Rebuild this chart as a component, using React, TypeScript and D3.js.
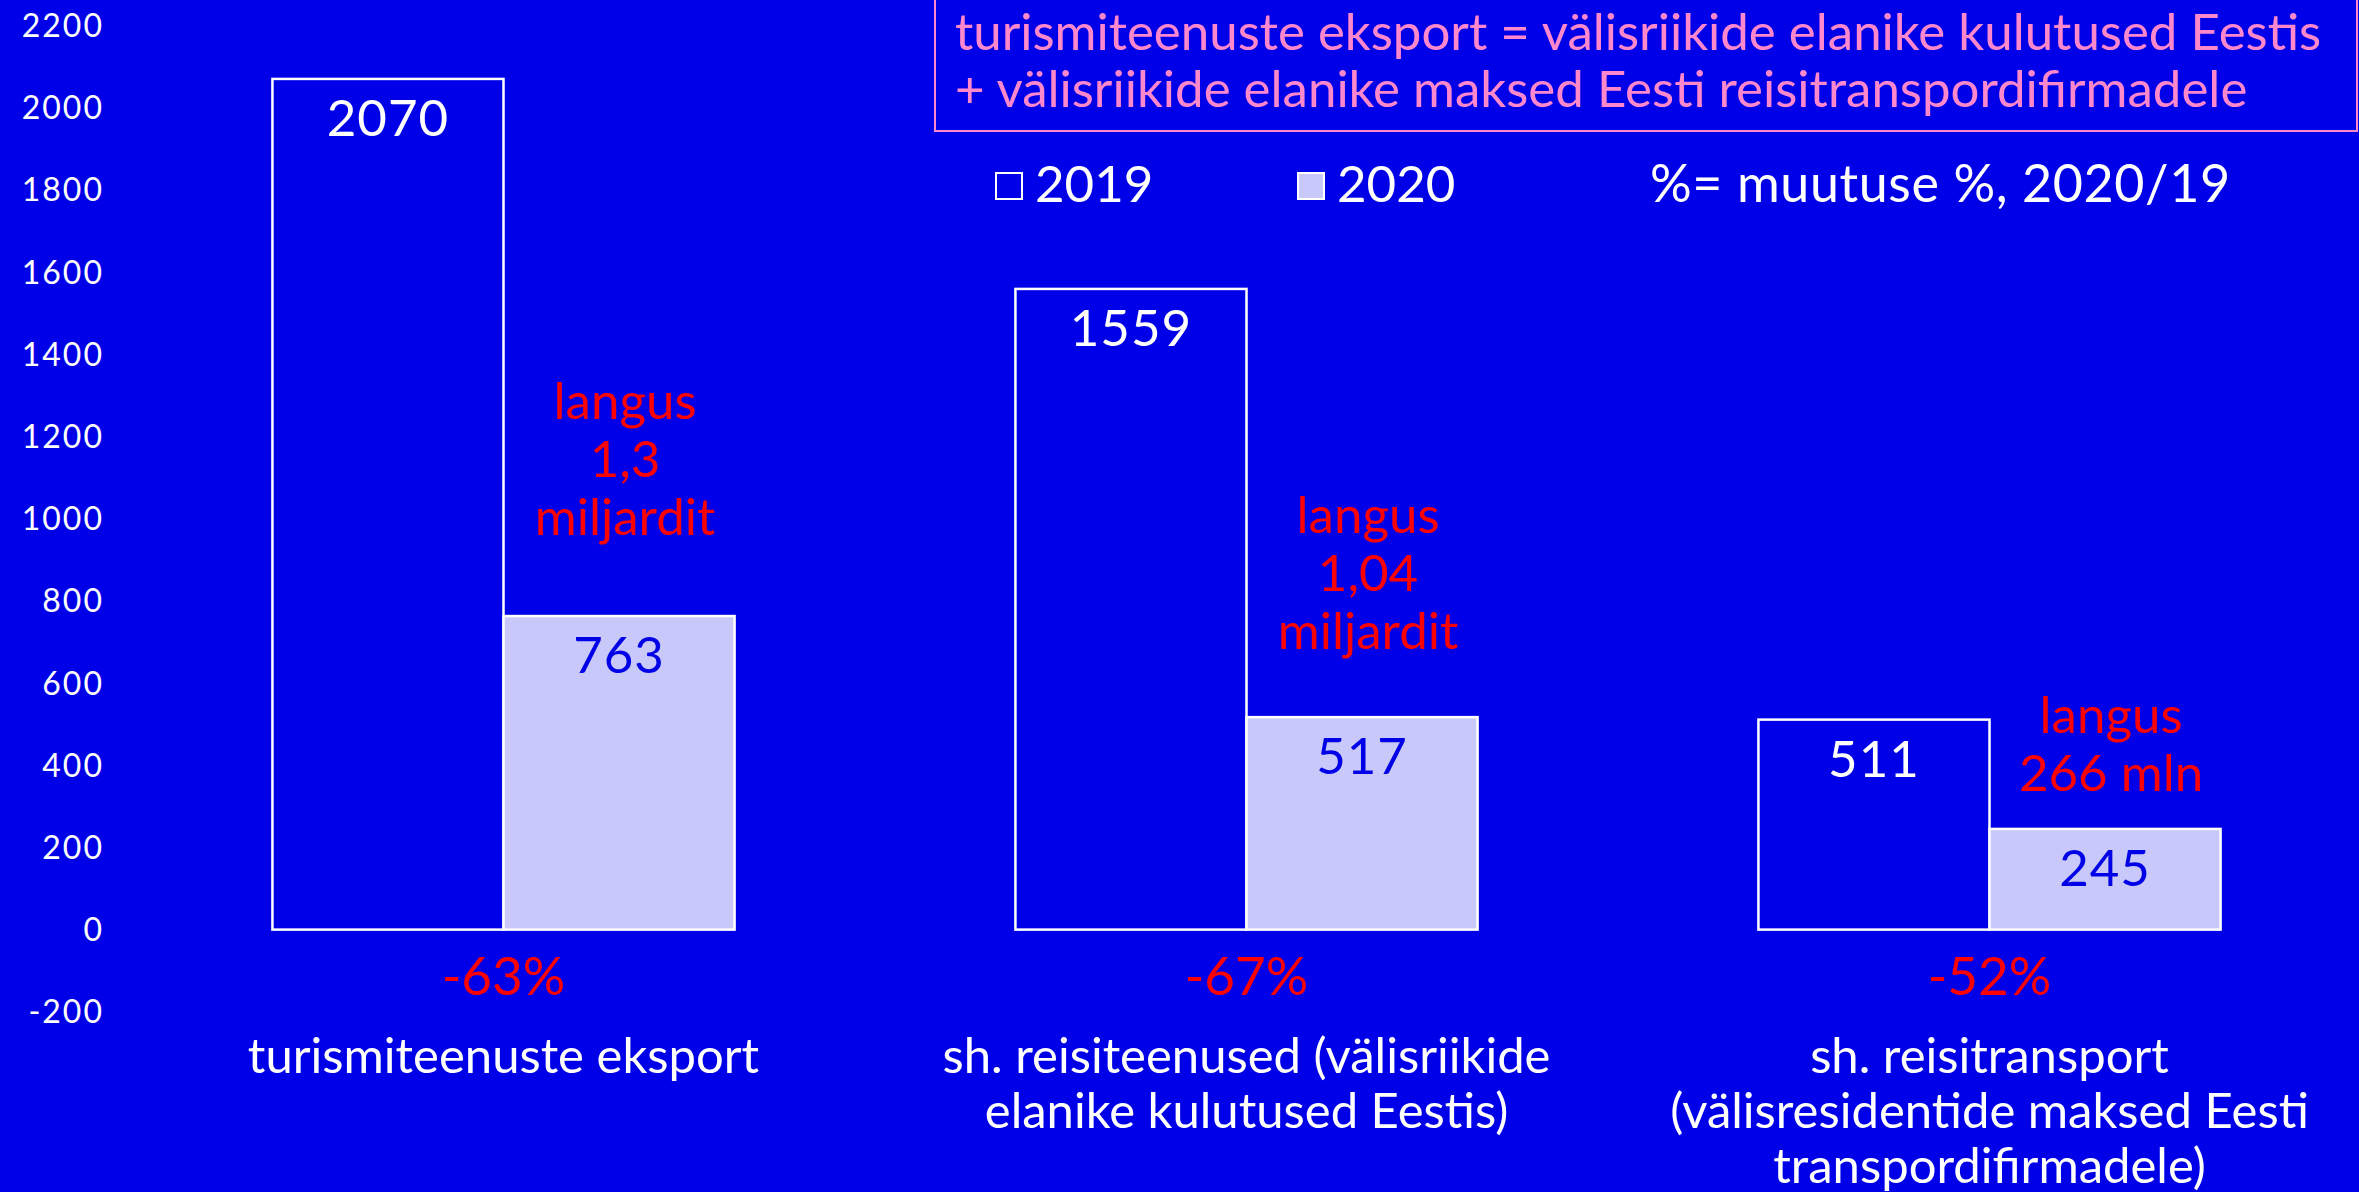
import React from 'react';
import * as d3 from 'd3';

// chart values
const categoryLines = [
  ['turismiteenuste eksport'],
  ['sh. reisiteenused (välisriikide', 'elanike kulutused Eestis)'],
  ['sh. reisitransport', '(välisresidentide maksed Eesti', 'transpordifirmadele)'],
];
const categories = categoryLines.map(l => l.join(' '));
const years = ['2019', '2020'];
const values2019 = [2070, 1559, 511];
const values2020 = [763, 517, 245];
const changeLabels = ['-63%', '-67%', '-52%'];
const dropNotes = [['langus', '1,3', 'miljardit'], ['langus', '1,04', 'miljardit'], ['langus', '266 mln']];
const dropNoteAt = [1242, 965, 478]; // value level of the first note line
const yTicks = d3.range(-200, 2201, 200);
const headerLines = [
  'turismiteenuste eksport = välisriikide elanike kulutused Eestis',
  '+ välisriikide elanike maksed Eesti reisitranspordifirmadele',
];
const changeNote = '%= muutuse %, 2020/19';

const W = 2359;
const H = 1192;
const BG = '#0000E8';
const LIGHT = '#C8C8FA';
const PINK = '#FF88CC';
const RED = '#FF0000';
const FONT = 'Lato, "Open Sans", sans-serif';

export default function App() {
  const y = d3.scaleLinear().domain([-200, 2200]).range([1011.8, 25.5]);
  const x0 = d3.scaleBand().domain(categories).range([132, 2361]).paddingInner(0.378).paddingOuter(0.189);
  const x1 = d3.scaleBand().domain(years).range([0, x0.bandwidth()]);
  const series = [values2019, values2020];
  const fills = [BG, LIGHT];
  const labelColors = ['#FFFFFF', BG];

  return (
    <svg width={W} height={H} style={{ position: 'absolute', left: 0, top: 0, background: BG }} fontFamily={FONT}>
      <rect x={0} y={0} width={W} height={H} fill={BG} />

      {/* y axis labels, no line */}
      {yTicks.map(t => (
        <text key={t} x={104} y={y(t)} dy="0.36em" textAnchor="end" fill="#fff" fontSize={32} letterSpacing={2}>
          {t}
        </text>
      ))}

      {/* bars */}
      {categories.map((c, i) => (
        <g key={c} transform={`translate(${x0(c)},0)`}>
          {years.map((yr, k) => {
            const v = series[k][i];
            return (
              <g key={yr}>
                <rect
                  x={x1(yr)}
                  y={y(v)}
                  width={x1.bandwidth()}
                  height={y(0) - y(v)}
                  fill={fills[k]}
                  stroke="#fff"
                  strokeWidth={2.5}
                />
                <text
                  x={(x1(yr) as number) + x1.bandwidth() / 2}
                  y={y(v) + 57}
                  textAnchor="middle"
                  fill={labelColors[k]}
                  fontSize={51}
                  letterSpacing={1}
                >
                  {v}
                </text>
              </g>
            );
          })}
          {/* drop note over the 2020 bar */}
          <text textAnchor="middle" fill={RED} fontSize={51}>
            {dropNotes[i].map((line, j) => (
              <tspan key={j} x={(x1('2020') as number) + x1.bandwidth() / 2 + 6} y={y(dropNoteAt[i]) + j * 58}>
                {line}
              </tspan>
            ))}
          </text>
          {/* change % */}
          <text x={x0.bandwidth() / 2} y={y(0) + 65} textAnchor="middle" fill={RED} fontSize={53}>
            {changeLabels[i]}
          </text>
          {/* category label */}
          <text textAnchor="middle" fill="#fff" fontSize={49}>
            {categoryLines[i].map((line, j) => (
              <tspan key={j} x={x0.bandwidth() / 2} y={y(0) + 143 + j * 55}>
                {line}
              </tspan>
            ))}
          </text>
        </g>
      ))}

      {/* header box */}
      <rect x={935} y={-5} width={1422} height={136} fill="none" stroke={PINK} strokeWidth={2} />
      {headerLines.map((line, j) => (
        <text key={j} x={955} y={50 + j * 57} fill={PINK} fontSize={51}>
          {line}
        </text>
      ))}

      {/* legend */}
      {years.map((yr, k) => (
        <g key={yr} transform={`translate(${996 + k * 302},0)`}>
          <rect x={0} y={173} width={26} height={26} fill={fills[k]} stroke="#fff" strokeWidth={2} />
          <text x={39} y={202} fill="#fff" fontSize={51}>
            {yr}
          </text>
        </g>
      ))}
      <text x={1650} y={202} fill="#fff" fontSize={52} letterSpacing={0.6}>
        {changeNote}
      </text>
    </svg>
  );
}
